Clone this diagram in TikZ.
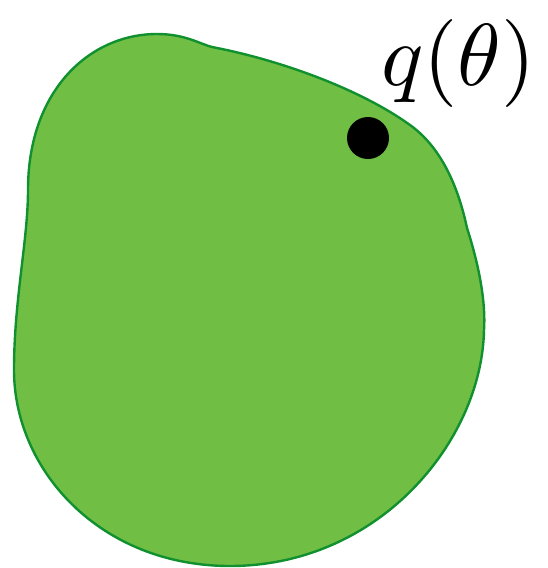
\documentclass[tikz,border=0pt]{standalone}
\usepackage{graphicx}
\usepackage{tikz}

\definecolor{blobfill}{HTML}{70BF44}
\definecolor{blobline}{HTML}{10902E}

\begin{document}
\begin{tikzpicture}[
    x=1pt, y=-1pt,
    blob/.style={fill=blobfill, draw=blobline, line width=2.4pt, line join=round},
    pointdot/.style={circle, fill=black, minimum size=42pt, inner sep=0pt},
    biglbl/.style={inner sep=0pt, anchor=base west},
]
\useasboundingbox (0,0) rectangle (547,568);

% Region
\draw[blob] (157,34) .. controls (185,34) and (200,44) .. (212,47)
    .. controls (280,60) and (360,89) .. (410,125)
    .. controls (445,150) and (460,195) .. (467,228)
    .. controls (478,262) and (486,300) .. (484,330)
    .. controls (482,440) and (380,566) .. (230,566)
    .. controls (100,566) and (14,470) .. (14,370)
    .. controls (14,300) and (28,240) .. (28,190)
    .. controls (28,90) and (90,34) .. (157,34) -- cycle;

% Point and its label
\node[pointdot] (q) at (368,138) {};
\node[biglbl] (qlbl) at (381,85) {\scalebox{8.8}{$q(\theta)$}};

\end{tikzpicture}
\end{document}
